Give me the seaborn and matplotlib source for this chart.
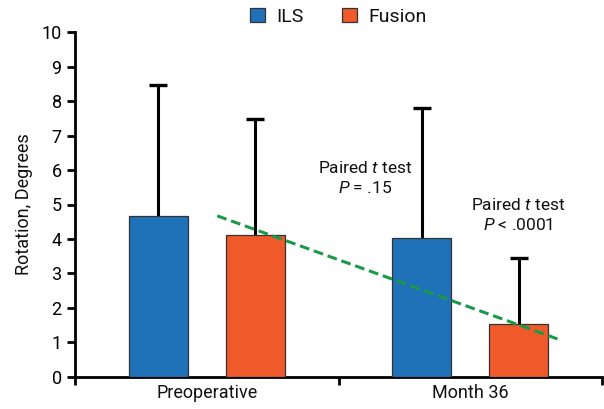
import pandas as pd
import seaborn as sns
import matplotlib.pyplot as plt

# values
timepoints = ['Preoperative', 'Month 36']
groups = ['ILS', 'Fusion']
ils_mean = [4.67, 4.02]
fusion_mean = [4.11, 1.53]
ils_sd = [3.79, 3.78]
fusion_sd = [3.37, 1.91]

# dashed trend line (x in category units, y in degrees)
trend_x = [0.04, 1.34]
trend_y = [4.67, 1.07]

palette = {'ILS': '#1f72b8', 'Fusion': '#f05a2a'}

sns.set_style('ticks')
plt.rcParams['font.family'] = ['Roboto', 'DejaVu Sans']
plt.rcParams['text.color'] = '#111111'
plt.rcParams['mathtext.fontset'] = 'custom'
plt.rcParams['mathtext.rm'] = 'Roboto'
plt.rcParams['mathtext.it'] = 'Roboto:italic'

df = pd.DataFrame({
    'Time': timepoints * 2,
    'Group': ['ILS'] * 2 + ['Fusion'] * 2,
    'Rotation': ils_mean + fusion_mean,
    'SD': ils_sd + fusion_sd,
})

fig = plt.figure(figsize=(6.04, 4.09), dpi=100)
ax = fig.add_axes([0.124, 0.079, 0.873, 0.842])

sns.barplot(data=df, x='Time', y='Rotation', hue='Group', order=timepoints,
            hue_order=groups, palette=palette, width=0.736, gap=0.39,
            errorbar=None, edgecolor='#333333', linewidth=0.9, saturation=1,
            zorder=3, ax=ax)

# upper-only error bars (stem + top cap)
cap = 0.034
for cont, grp in zip(ax.containers, groups):
    sds = df[df['Group'] == grp]['SD'].tolist()
    for bar, sd in zip(cont, sds):
        xc = bar.get_x() + bar.get_width() / 2
        h = bar.get_height()
        ax.vlines(xc, h, h + sd, color='black', linewidth=2.2, zorder=2)
        ax.hlines(h + sd, xc - cap, xc + cap, color='black', linewidth=2.4,
                  zorder=2)

ax.plot(trend_x, trend_y, color='#1a9a48', linestyle=(0, (3.2, 1.6)),
        linewidth=2.2, zorder=4)

ax.text(0.60, 5.77, 'Paired $\\mathit{t}$ test\n$\\mathit{P}$ = .15', ha='center',
        va='center', fontsize=12.5, linespacing=1.3)
ax.text(1.18, 4.69, 'Paired $\\mathit{t}$ test\n$\\mathit{P}$ < .0001', ha='center',
        va='center', fontsize=12.5, linespacing=1.3)

ax.set_ylim(0, 10)
ax.set_yticks(range(0, 11))
ax.set_xlim(-0.5, 1.5)
ax.set_xticks([-0.5, 0.5, 1.5], minor=False)
ax.set_xticklabels(['', '', ''])
ax.set_xticks([0, 1], minor=True)
ax.set_xticklabels(timepoints, minor=True)
ax.tick_params(axis='x', which='minor', length=0, labelsize=13, pad=5,
               labelcolor='#111111')
ax.tick_params(axis='x', which='major', length=6, width=2)
ax.tick_params(axis='y', length=6, width=2, labelsize=13, labelcolor='#111111')
ax.set_xlabel('')
ax.set_ylabel('Rotation, Degrees', fontsize=13, labelpad=6, color='#111111')
for side in ['left', 'bottom']:
    ax.spines[side].set_linewidth(2)
    ax.spines[side].set_color('black')
ax.tick_params(colors='black', which='major')
sns.despine(ax=ax)

sns.move_legend(ax, 'center', bbox_to_anchor=(0.5, 1.044), ncol=2,
                frameon=False, title=None, fontsize=14, handlelength=0.75,
                handleheight=0.75, columnspacing=2.0, handletextpad=0.6,
                borderpad=0.1)

fig.savefig('out.png', dpi=100)
